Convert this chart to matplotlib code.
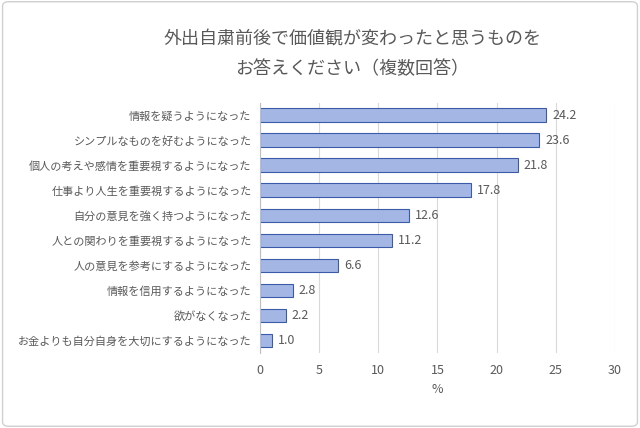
import matplotlib.pyplot as plt
from matplotlib.patches import FancyBboxPatch

plt.rcParams['font.family'] = 'Noto Sans CJK JP'

title = '外出自粛前後で価値観が変わったと思うものを\nお答えください（複数回答）'
labels = [
    '情報を疑うようになった',
    'シンプルなものを好むようになった',
    '個人の考えや感情を重要視するようになった',
    '仕事より人生を重要視するようになった',
    '自分の意見を強く持つようになった',
    '人との関わりを重要視するようになった',
    '人の意見を参考にするようになった',
    '情報を信用するようになった',
    '欲がなくなった',
    'お金よりも自分自身を大切にするようになった',
]
values = [24.2, 23.6, 21.8, 17.8, 12.6, 11.2, 6.6, 2.8, 2.2, 1.0]

fig = plt.figure(figsize=(6.4, 4.28), dpi=100)
fig.patches.append(FancyBboxPatch((0.004, 0.004), 0.992, 0.992, boxstyle='round,pad=0,rounding_size=0.01',
                                  transform=fig.transFigure, fill=False, edgecolor='#d0d0d0', lw=1))
ax = fig.add_axes([0.406, 0.175, 0.555, 0.585])
y = range(len(labels))
ax.barh(y, values, height=0.55, color='#a4b6e4', edgecolor='#3a5ca8', lw=0.8)
for i, v in zip(y, values):
    ax.text(v + 0.5, i, f'{v:.1f}', va='center', fontsize=9, color='#595959')
ax.set_yticks(list(y))
ax.set_yticklabels(labels, fontsize=8, color='#595959')
ax.invert_yaxis()
ax.set_ylim(len(labels) - 0.5, -0.5)
ax.set_xlim(0, 30)
ax.set_xticks(range(0, 31, 5))
ax.tick_params(axis='x', labelsize=9, colors='#595959', length=0, pad=8)
ax.tick_params(axis='y', length=0, pad=6)
ax.grid(axis='x', color='#d9d9d9', lw=0.8)
ax.set_axisbelow(True)
for s in ['top', 'right', 'bottom']:
    ax.spines[s].set_visible(False)
ax.spines['left'].set_color('#bfbfbf')
ax.set_xlabel('%', fontsize=9, color='#595959')
fig.text(0.55, 0.93, title, ha='center', va='top', fontsize=13, color='#595959', linespacing=1.9)
fig.savefig('out.png')
